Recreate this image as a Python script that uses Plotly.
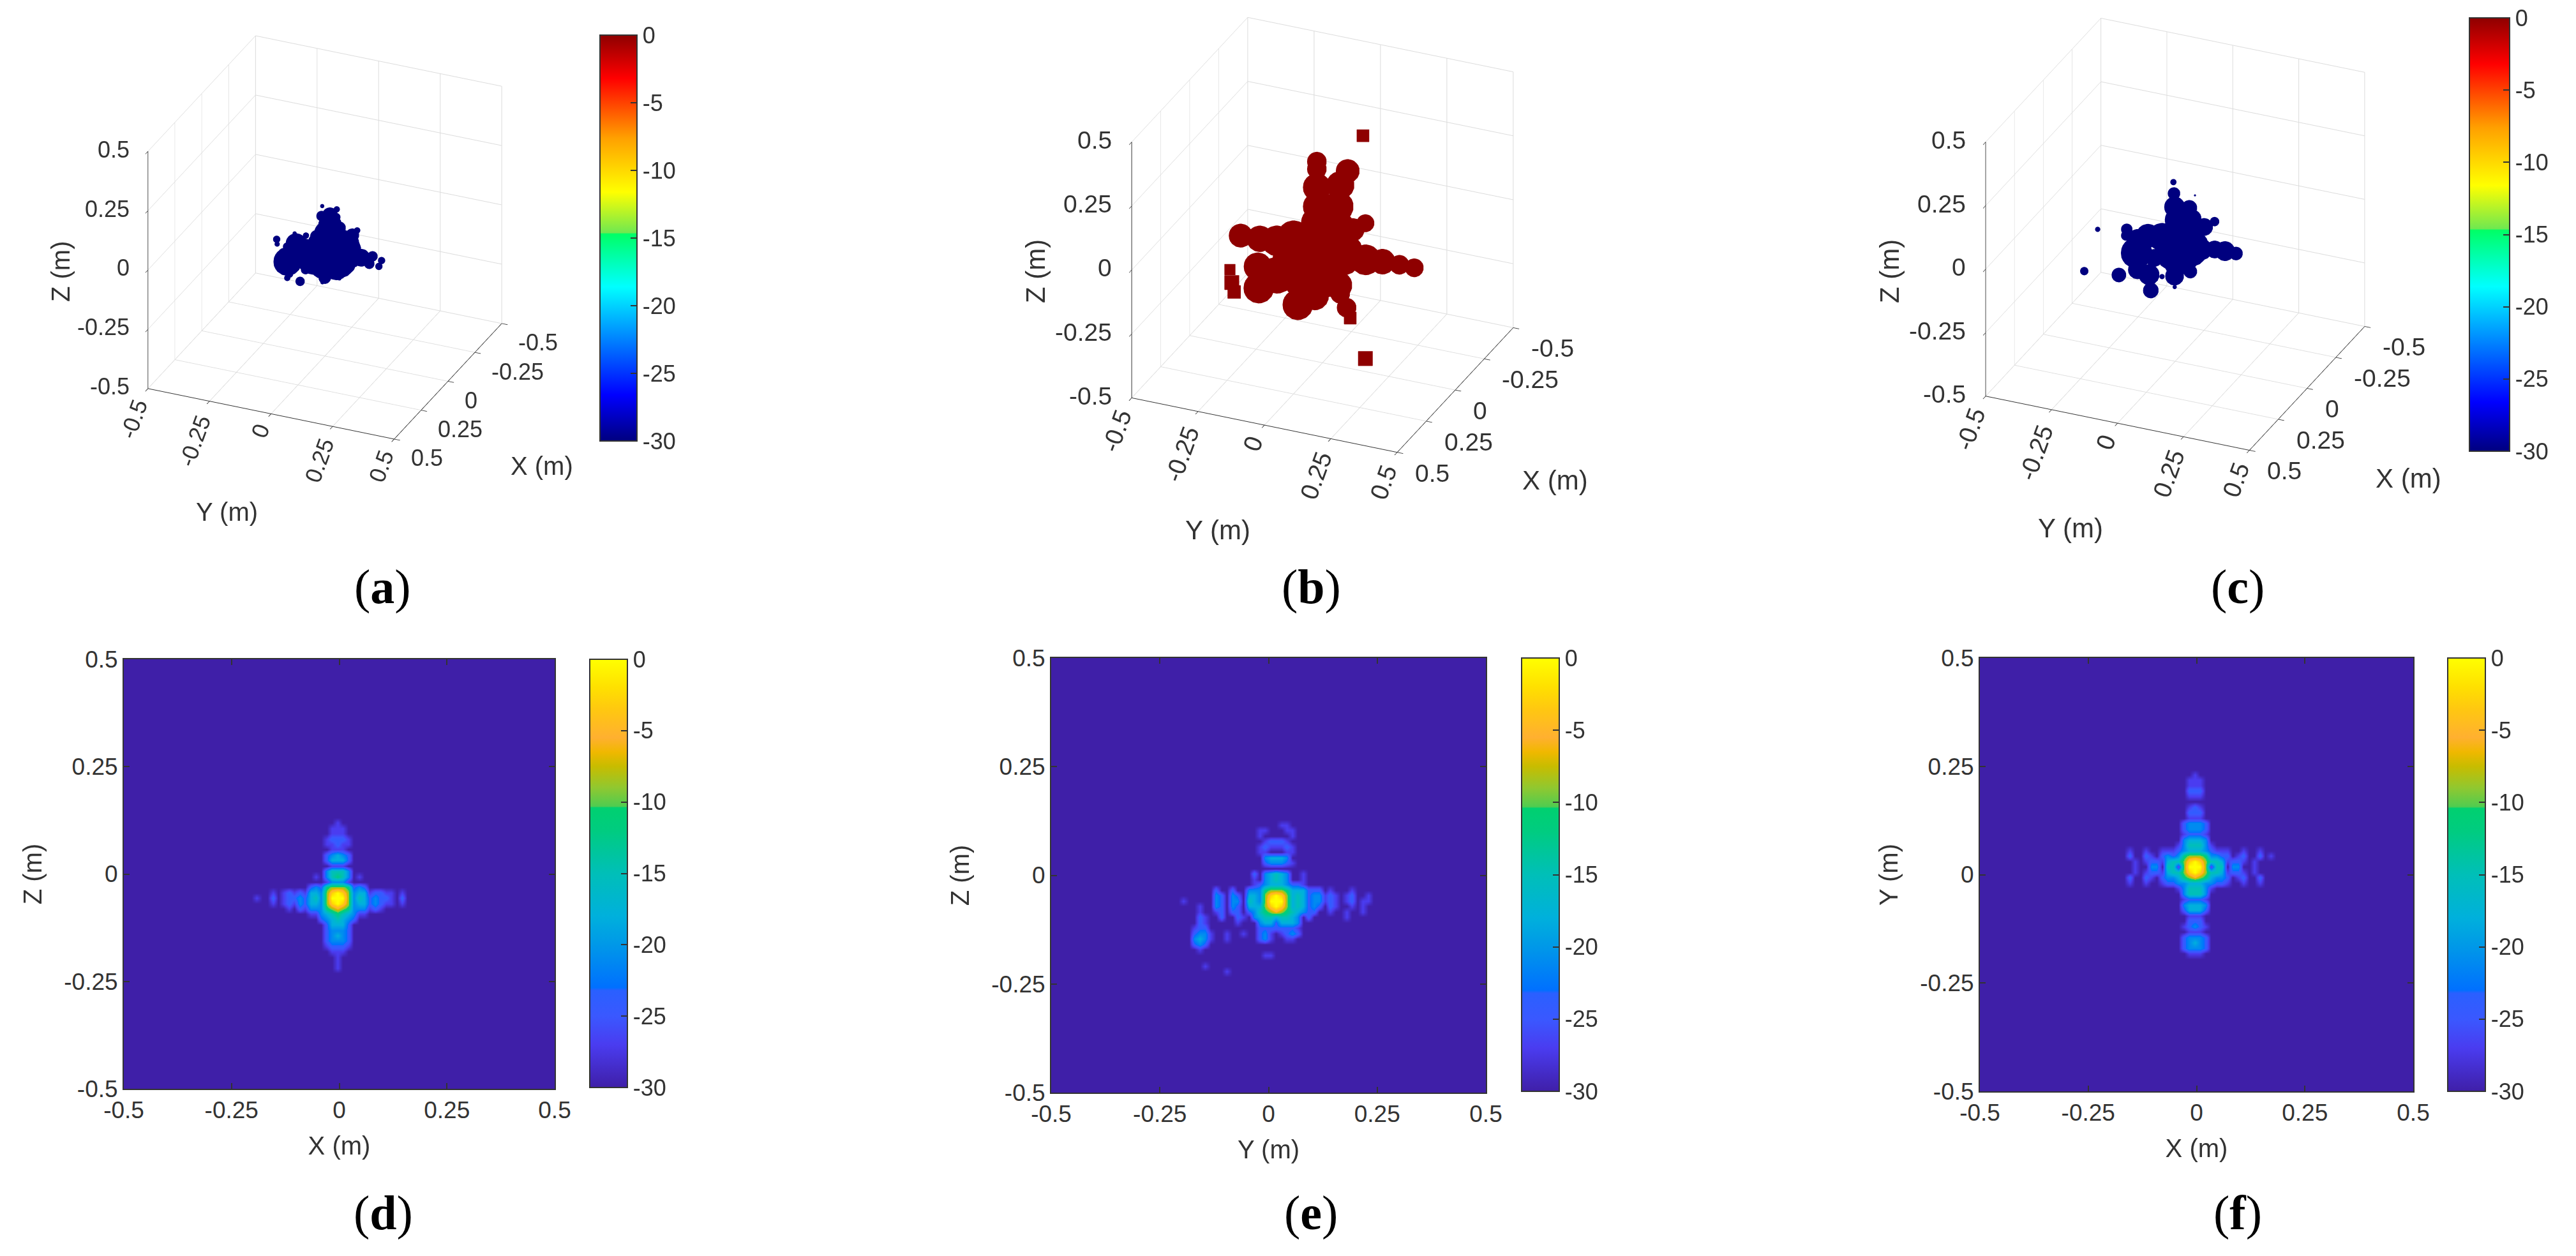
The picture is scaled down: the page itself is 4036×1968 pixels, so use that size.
import numpy as np
import plotly.graph_objects as go

W, H = 4036, 1968
OFF = 8  # the page body margin moves everything by this much
TICK3D = [-0.5, -0.25, 0, 0.25, 0.5]
TICKTXT = ["-0.5", "-0.25", "0", "0.25", "0.5"]
CB_VALS = [-30, -25, -20, -15, -10, -5, 0]
CB_TXT = ["-30", "-25", "-20", "-15", "-10", "-5", "0"]

# point clouds read off the 3D views (y, z, blob size); depth cannot be read so x stays 0
a_y = [-.196, -.194, -.011, .048, -.123, -.077, -.035, .131, -.014, .020, .046, .020, .011, .059, .072, .111, .102,
       .003, .046, -.040, -.079, .068, .106, .046, -.014, -.001, -.010, .059, -.153, -.166, -.154, -.118, -.084,
       -.101, -.079, -.053, -.144, -.153, -.101, .147, .193, .180, .230, .219]
a_z = [-.049, -.069, .130, .129, -.009, -.008, -.002, .058, .088, .099, .096, .055, .017, .054, .012, .034, .001,
       -.038, -.074, -.092, -.118, -.042, -.061, -.118, -.131, -.169, -.191, -.160, -.133, -.105, -.071, -.050, -.065,
       -.127, -.152, -.135, -.185, -.203, -.206, -.053, -.038, -.072, -.048, -.075]
a_s = [7, 5, 4, 6, 4, 6, 12, 6, 10, 15, 8, 23, 27, 12, 17, 13, 17,
       37, 40, 33, 17, 37, 20, 23, 20, 12, 4, 4, 27, 12, 8, 20, 20,
       10, 9, 13, 7, 6, 9, 17, 10, 10, 7, 7]

b_y = [.152, .161, -.349, -.342, -.333, .104, .090, -.022, -.022, .094, -.022, -.022, .066, .058, .161, .114,
       -.309, -.237, -.173, -.110, -.245, -.241, -.173, -.094, -.014, .066, -.014, .058, -.014, -.094, -.030, .058,
       .066, .161, .225, .289, .345, -.094]
b_z = [.421, -.448, -.209, -.258, -.293, -.302, -.264, .283, .254, .271, .183, .108, .210, .125, .081, .046,
       -.067, -.064, -.058, -.028, -.174, -.257, -.192, -.108, -.057, -.056, .043, .050, -.157, -.291, -.244, -.183,
       -.215, -.061, -.055, -.054, -.054, -.208]
b_s = [17, 20, 15, 20, 18, 17, 23, 23, 23, 28, 33, 33, 33, 36, 21, 27,
       28, 31, 36, 38, 33, 36, 43, 60, 60, 53, 43, 36, 57, 36, 33, 33,
       23, 36, 30, 23, 22, 30]

c_y = [-.007, -.005, .075, -.294, -.345, -.050, -.002, -.093, -.214, -.184, -.186, -.144, -.100, -.148, -.144, -.104,
       -.051, -.080, -.003, .053, .005, .065, .149, .109, .029, .053, -.003, -.003, .005, .057, .057, .101, .149, .188,
       .230, -.043]
c_z = [.204, .160, .169, -.043, -.218, -.177, -.208, -.240, -.205, -.019, -.044, -.169, -.179, -.103, -.044, -.027,
       -.020, -.109, .108, .116, .059, .077, .082, .053, -.002, -.039, -.068, -.164, -.116, -.134, -.097, -.037, -.027,
       -.025, -.026, -.085]
c_s = [6, 12, 2, 5, 8, 5, 4, 15, 14, 11, 10, 18, 20, 30, 17, 23,
       27, 17, 20, 15, 23, 17, 9, 17, 40, 37, 37, 18, 23, 13, 13, 20, 17,
       19, 13, 20]

# slice maps, one char per 0.0125 m cell: '.' = -30, 1..9 = -27..-3 in 3 dB steps, X = 0
d_rows = [
    ".................................",
    ".................................",
    "................1................",
    "...............111...............",
    "...............111...............",
    "..............12221..............",
    "..............11211..............",
    "...............111...............",
    "..............23432..............",
    "..............24442..............",
    "...............111...............",
    "..............35553..............",
    "............1.35653.1............",
    "..............13331..............",
    "...........232" + "67776" + "232...........",
    "....1.12121443" + "79X97" + "34412211.1....",
    ".1..2.12232453" + "7XXX7" + "35423221.2....",
    "....1.12132443" + "79X97" + "34423211.1....",
    ".......1.21333" + "67876" + "333121........",
    "...........113" + "45654" + "311...........",
    ".............2" + "34543" + "2.............",
    "..............24442..............",
    "..............23332..............",
    "..............23432..............",
    "..............23332..............",
    "..............12221..............",
    "...............111...............",
    "................1................",
    "................1................",
    "................1................",
    ".................................",
]
d_x0, d_z0, d_top = -0.004, -0.056, 16

e_rows = [
    "." * 37,
    "." * 37,
    "." * 18 + "." + "11................",
    "...............11." + "." + ".11...............",
    "...............1.." + "." + "..1...............",
    "................12" + "2" + "21................",
    "...............121" + "1" + "121...............",
    "...............11." + "." + ".11...............",
    "................34" + "4" + "43................",
    "................23" + "3" + "321...............",
    "." * 37,
    "..............2.34" + "5" + "43..1.............",
    "..............1.34" + "5" + "43..1.............",
    "..............1234" + "4" + "43221.............",
    ".......2..2..33367" + "7" + "76444222.1...1....",
    ".......32.32.44379" + "X" + "97454233121.12..1.",
    ".1.....32.33.5437X" + "X" + "X7454233121.12.11.",
    "....1..32.32.44479" + "X" + "97454232.21..1.1..",
    "....1..12.22.23567" + "8" + "7654322..1..1..1..",
    "....21..2..21.3455" + "4" + "5543.2......1.....",
    "....21.....1...344" + "2" + "4443..............",
    "...122.........222" + "2" + "2221..............",
    "...2331..1..1..231" + "." + "1232..............",
    "...3431..1.....231" + "." + ".11...............",
    "...232............" + "." + "." * 18,
    "....1............." + "." + "." * 18,
    "................11" + "." + "." * 18,
    "." * 37,
    ".....1............" + "." + "." * 18,
    ".........1........" + "." + "." * 18,
    "." * 37,
]
e_x0, e_z0, e_top = 0.017, -0.059, 16

f_rows = [
    "................1................",
    "...............111...............",
    "...............111...............",
    "...............222...............",
    "...............111...............",
    ".................................",
    "...............121...............",
    "...............222...............",
    "...............111...............",
    "..............23332..............",
    "..............23332..............",
    "..............12221..............",
    "..............34443..............",
    ".............1" + "35553" + "1.............",
    "....1..1..1112" + "34443" + "2111..1..1....",
    "....2..21.2323" + "67776" + "3322.12..2.1..",
    ".....1.1221455" + "79X97" + "5541221.1.....",
    ".....1..33.551" + "7XXX7" + "155.33..1.....",
    ".....1.1221455" + "79X97" + "5541221.1.....",
    "....2..21.2334" + "67876" + "4332.12..2....",
    "....1..1..1223" + "34443" + "3221..1..1....",
    ".............1" + "35553" + "1.............",
    "..............35553..............",
    "..............12221..............",
    "..............34443..............",
    "..............24442..............",
    "...............111...............",
    "...............222...............",
    "..............12321..............",
    "...............111...............",
    "..............23332..............",
    "..............23432..............",
    "..............23332..............",
    "...............111...............",
]
f_x0, f_z0, f_top = -0.004, 0.018, 17

STEP = 0.0125
PAD = 50
MARK = 1.9
MARK_B = 1.55
MARK_TILE = 1.2


def fx(px):
    return (px - OFF) / W


def fy(py):
    return 1 - (py - OFF) / H


def decode(rows, x0, y0, top):
    ncol = max(len(r) for r in rows)
    grid = []
    for r in rows:
        r = r.ljust(ncol, ".")
        grid.append([-30 if c == "." else (0 if c == "X" else -30 + 3 * int(c)) for c in r])
    z = np.array(grid, dtype=float)[::-1]
    z = np.pad(z, PAD, constant_values=-30)
    xs = x0 + STEP * (np.arange(z.shape[1]) - (z.shape[1] - 1) / 2)
    jtop = top + PAD
    ys = y0 + STEP * (jtop - (z.shape[0] - 1) + np.arange(z.shape[0]))
    return xs, ys, z


jet = [(-30, "#00007F"), (-26.6, "#0000FF"), (-22.6, "#007FFF"), (-18.6, "#00FFFF"), (-14.7, "#00FF66"),
       (-14.6, "#70E850"), (-11.6, "#FFFF00"), (-7.6, "#FFA000"), (-3.2, "#FF0000"), (0, "#8E0000")]
parula = [(-30, "#3F1FA8"), (-27, "#4A3CF0"), (-25, "#3A58FF"), (-23.2, "#2A60FF"), (-23, "#0070FF"),
          (-20, "#0098E8"), (-18, "#00B0DC"), (-15, "#00BFB8"), (-12, "#00CC80"), (-10.4, "#00D070"),
          (-10.3, "#50CC50"), (-9, "#90C830"), (-7.5, "#C8BC00"), (-6.5, "#F0B800"), (-5.5, "#FFB030"),
          (-3.5, "#FFC810"), (-2, "#FFE000"), (0, "#FFFF00")]


def scale(stops):
    return [[(v + 30) / 30, c] for v, c in stops]


def cbar(x0, x1, y0, y1, size):
    return dict(x=fx(x0), xanchor="left", xpad=0, y=fy(y1), yanchor="bottom", ypad=0,
                len=(y1 - y0) / H, lenmode="fraction", thickness=x1 - x0, thicknessmode="pixels",
                outlinecolor="#333333", outlinewidth=2, ticks="inside", ticklen=11, tickwidth=2, tickcolor="#333333",
                tickmode="array", tickvals=CB_VALS, ticktext=CB_TXT, ticklabeloverflow="allow",
                tickfont=dict(family="Liberation Sans", size=size, color="#333333"))


fig = go.Figure()


def cloud(sid, ys, zs, sizes, value, caxis):
    is_b = value == 0
    symbols = ["square" if is_b and v < 21 else "circle" for v in sizes]
    drawn = [v * (MARK_TILE if s == "square" else (MARK_B if is_b else MARK)) for v, s in zip(sizes, symbols)]
    fig.add_trace(go.Scatter3d(
        x=[0] * len(ys), y=ys, z=zs, mode="markers", scene=sid, showlegend=False,
        marker=dict(size=drawn, sizemode="diameter", color=[value] * len(ys), coloraxis=caxis,
                    symbol=symbols, opacity=1, line=dict(width=0))))


cloud("scene", a_y, a_z, a_s, -30, "coloraxis")
cloud("scene2", b_y, b_z, b_s, 0, "coloraxis")
cloud("scene3", c_y, c_z, c_s, -30, "coloraxis2")

for n, (rows, x0, y0, top) in enumerate([(d_rows, d_x0, d_z0, d_top), (e_rows, e_x0, e_z0, e_top),
                                         (f_rows, f_x0, f_z0, f_top)]):
    xs, ys, z = decode(rows, x0, y0, top)
    fig.add_trace(go.Heatmap(x=xs, y=ys, z=z, zsmooth="best", coloraxis=f"coloraxis{n + 3}",
                             xaxis=f"x{n + 1}", yaxis=f"y{n + 1}"))

PHI, ELEV = np.radians(23.6), np.radians(28)
DIR = np.array([np.cos(PHI) * np.cos(ELEV), np.sin(PHI) * np.cos(ELEV), np.sin(ELEV)])
SCENE_H = 960
EYE_DIST = 2.5  # the orthographic scale does not follow this, only the aspect ratio does

# offsets of the rotated Y tick labels from their ticks, at font size 36
Y_LABEL_DX = [-22, -23, -17, -21, -20]
Y_LABEL_DY = [48, 62, 27, 53, 43]


def tick_labels(font):
    f = font / 36
    col = "#333333"
    out = []
    for t, txt in zip(TICK3D, TICKTXT):
        base = dict(text=txt, showarrow=False, font=dict(family="Liberation Sans", size=font, color=col))
        out.append(dict(base, x=0.5, y=-0.5, z=t, xanchor="right", yanchor="middle", xshift=-27 * f, yshift=3))
        out.append(dict(base, x=t, y=0.5, z=-0.5, xanchor="left", yanchor="middle", xshift=24 * f, yshift=-30 * f))
    for t, txt, dx, dy in zip(TICK3D, TICKTXT, Y_LABEL_DX, Y_LABEL_DY):
        out.append(dict(text=txt, showarrow=False, font=dict(family="Liberation Sans", size=font, color=col),
                        x=0.5, y=t, z=-0.5, xanchor="center", yanchor="middle", textangle=-70,
                        xshift=dx * f, yshift=-dy * f))
    return out


def scene_layout(cx, cy, s, font):
    cx, cy = cx - OFF, cy - OFF
    half = min(cx, W - cx, 560)
    s0 = SCENE_H / 2
    k = s / s0
    cz = -(s0 - cy) / (np.cos(ELEV) * s0)
    eye = DIR * EYE_DIST
    axis = dict(range=[-0.5, 0.5], autorange=False, tickmode="array", tickvals=TICK3D, ticktext=TICKTXT,
                showbackground=False, showspikes=False, zeroline=False, showline=True, linecolor="#333333",
                linewidth=2, gridcolor="#DCDCDC", gridwidth=2, ticks="outside", ticklen=10, tickwidth=2,
                tickcolor="#333333", title=dict(text=""), showticklabels=False)
    return dict(domain=dict(x=[(cx - half) / W, (cx + half) / W], y=[1 - SCENE_H / H, 1]),
                xaxis=axis, yaxis=axis, zaxis=axis, annotations=tick_labels(font),
                aspectmode="manual", aspectratio=dict(x=k, y=k, z=k), bgcolor="rgba(0,0,0,0)",
                camera=dict(projection=dict(type="orthographic"), up=dict(x=0, y=0, z=1),
                            center=dict(x=0, y=0, z=cz),
                            eye=dict(x=eye[0], y=eye[1], z=eye[2] + cz)))


def slice_axis(px0, px1, horizontal, anchor, title):
    if horizontal:
        dom = [fx(px0), fx(px1)]
    else:
        dom = [fy(px1), fy(px0)]
    return dict(domain=dom, range=[-0.5, 0.5], anchor=anchor, tickmode="array", tickvals=TICK3D, ticktext=TICKTXT,
                ticks="inside", ticklen=9, tickwidth=2, tickcolor="#333333", mirror="ticks", showline=True,
                linecolor="#333333", linewidth=2, showgrid=False, zeroline=False,
                tickfont=dict(family="Liberation Sans", size=37, color="#333333"),
                title=dict(text=title, standoff=22, font=dict(family="Liberation Sans", size=40, color="#333333")))


def label(px, py, text, size=40, angle=0, family="Liberation Sans", color="#333333"):
    return dict(x=fx(px), y=fy(py), xref="paper", yref="paper", text=text, showarrow=False, textangle=angle,
                xanchor="center", yanchor="middle", font=dict(family=family, size=size, color=color))


fig.update_layout(
    width=W, height=H, margin=dict(l=0, r=0, t=0, b=0, autoexpand=False), autosize=False, showlegend=False,
    paper_bgcolor="white", plot_bgcolor="#3F1FA8",
    scene=scene_layout(509, 372, 421, 36),
    scene2=scene_layout(2072, 368, 454, 39),
    scene3=scene_layout(3408, 367, 451, 39),
    coloraxis=dict(cmin=-30, cmax=0, colorscale=scale(jet), colorbar=cbar(940, 998, 55, 691, 36)),
    coloraxis2=dict(cmin=-30, cmax=0, colorscale=scale(jet), colorbar=cbar(3869, 3932, 28, 707, 36)),
    coloraxis3=dict(cmin=-30, cmax=0, colorscale=scale(parula), colorbar=cbar(924, 983, 1033, 1704, 36)),
    coloraxis4=dict(cmin=-30, cmax=0, colorscale=scale(parula), colorbar=cbar(2384, 2443, 1031, 1710, 36)),
    coloraxis5=dict(cmin=-30, cmax=0, colorscale=scale(parula), colorbar=cbar(3835, 3894, 1031, 1710, 36)),
    xaxis=slice_axis(194, 869, True, "y", "X (m)"),
    yaxis=slice_axis(1033, 1706, False, "x", "Z (m)"),
    xaxis2=slice_axis(1647, 2328, True, "y2", "Y (m)"),
    yaxis2=slice_axis(1031, 1712, False, "x2", "Z (m)"),
    xaxis3=slice_axis(3102, 3781, True, "y3", "X (m)"),
    yaxis3=slice_axis(1031, 1710, False, "x3", "Y (m)"),
    annotations=[
        label(849, 730, "X (m)"), label(355, 802, "Y (m)"), label(95, 425, "Z (m)", angle=-90),
        label(2436, 752, "X (m)", 42), label(1908, 830, "Y (m)", 42), label(1622, 425, "Z (m)", 42, -90),
        label(3773, 750, "X (m)", 42), label(3244, 827, "Y (m)", 42), label(2960, 425, "Z (m)", 42, -90),
        label(599, 919, "(<b>a</b>)", 76, family="Liberation Serif", color="black"),
        label(2054, 919, "(<b>b</b>)", 76, family="Liberation Serif", color="black"),
        label(3506, 919, "(<b>c</b>)", 76, family="Liberation Serif", color="black"),
        label(600, 1900, "(<b>d</b>)", 76, family="Liberation Serif", color="black"),
        label(2054, 1900, "(<b>e</b>)", 76, family="Liberation Serif", color="black"),
        label(3506, 1900, "(<b>f</b>)", 76, family="Liberation Serif", color="black"),
    ],
)

fig.write_html("out.html")
